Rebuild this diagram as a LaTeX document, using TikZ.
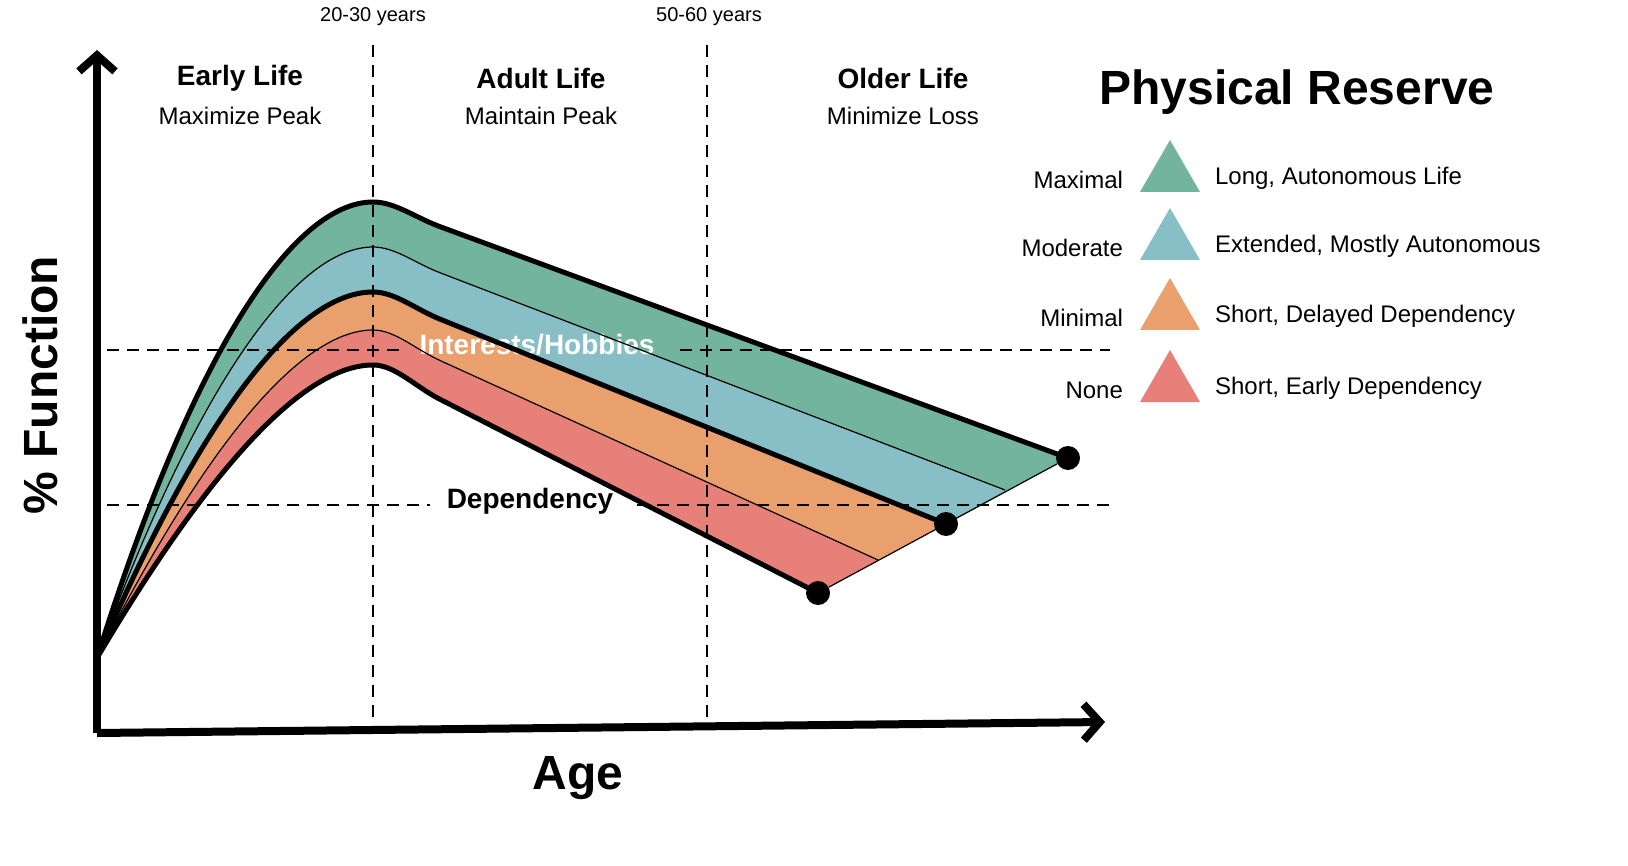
\documentclass[tikz,border=0pt]{standalone}
\usepackage{fontspec}
\setmainfont{Liberation Sans}
\usetikzlibrary{arrows.meta}
\definecolor{resgreen}{HTML}{72B49E}
\definecolor{resblue}{HTML}{88BEC5}
\definecolor{resorange}{HTML}{E9A06C}
\definecolor{resred}{HTML}{E8807A}
% one band curve: c1x, c1y, c2x, peak y, end x, end y, slope
\newcommand{\bandcurve}[7]{(97,658) .. controls (#1,#2) and (#3,#4) .. (373,#4) .. controls (395,#4) and (415,#4+42*#7) .. (440,#4+67*#7) -- (#5,#6)}
\newcommand{\bandback}{-- (818,593) -- (440,399.3) .. controls (415,386.5) and (395,365) .. (373,365) .. controls (310,365) and (220,450) .. (97,658)}
\tikzset{
  axis/.style={line width=4pt, -{Straight Barb[length=8pt,width=18pt,line width=4pt]}},
  guide/.style={line width=1.2pt, dash pattern=on 6pt off 4pt},
  thickc/.style={line width=2.5pt, line join=round},
  thinc/.style={line width=0.6pt},
  head/.style={font=\bfseries\fontsize{14}{16}\selectfont},
  sub/.style={font=\fontsize{12}{14}\selectfont},
  leg/.style={font=\fontsize{12}{14}\selectfont},
  tri/.style={fill=#1, draw=none}
}
\begin{document}
\begin{tikzpicture}[x=0.5pt,y=-0.5pt]
        \useasboundingbox (0,0) rectangle (1628,866);
        % bands
        \fill[resgreen] \bandcurve{200}{330}{300}{202}{1068}{458}{0.368} \bandback;
        \fill[resblue] \bandcurve{205}{363}{303}{247}{1005}{490}{0.384} \bandback;
        \fill[resorange] \bandcurve{211}{392}{305}{292}{946}{524}{0.405} \bandback;
        \fill[resred] \bandcurve{216}{424}{308}{330}{878}{560}{0.455} \bandback;
        % guides
        \coordinate (g1a) at (373,45); \coordinate (g1b) at (373,722);
        \coordinate (g2a) at (707,45); \coordinate (g2b) at (707,722);
        \draw[guide] (g1a) -- (g1b);
        \draw[guide] (g2a) -- (g2b);
        \draw[guide] (107,350) -- (402,350);
        \draw[guide] (680,350) -- (1110,350);
        \draw[guide] (107,505) -- (430,505);
        \draw[guide] (637,505) -- (1110,505);
        \node[font=\bfseries\fontsize{14}{16}\selectfont, text=white] (hobby) at (537,345) {Interests/Hobbies};
        \node[font=\bfseries\fontsize{14}{16}\selectfont] (dep) at (530,501) {Dependency};
        % curves
        \draw[thickc] \bandcurve{200}{330}{300}{202}{1068}{458}{0.368};
        \draw[thinc] \bandcurve{205}{363}{303}{247}{1005}{490}{0.384};
        \draw[thickc] \bandcurve{211}{392}{305}{292}{946}{524}{0.405};
        \draw[thinc] \bandcurve{216}{424}{308}{330}{878}{560}{0.455};
        \draw[thickc] \bandcurve{220}{450}{310}{365}{818}{593}{0.512};
        \node[circle, fill=black, inner sep=0pt, minimum size=12pt] (e1) at (818,593) {};
        \node[circle, fill=black, inner sep=0pt, minimum size=12pt] (e2) at (946,524) {};
        \node[circle, fill=black, inner sep=0pt, minimum size=12pt] (e3) at (1068,458) {};
        \draw[thinc] (e1) -- (e3);
        % axes
        \coordinate (origin) at (97,733);
        \coordinate (ytop) at (97,50);
        \coordinate (xend) at (1105,722);
        \draw[axis] (origin) -- (ytop);
        \draw[axis] (origin) -- (xend);
        \node[font=\bfseries\fontsize{24}{28}\selectfont, rotate=90] (ylab) at (40,385) {\% Function};
        \node[font=\bfseries\fontsize{24}{28}\selectfont] (xlab) at (578,778) {Age};
        % periods
        \node[font=\fontsize{10}{12}\selectfont] (y1) at (373,17) {20-30 years};
        \node[font=\fontsize{10}{12}\selectfont] (y2) at (709,17) {50-60 years};
        \node[head] (early) at (240,78) {Early Life};
        \node[sub] (earlys) at (240,116) {Maximize Peak};
        \node[head] (adult) at (541,78) {Adult Life};
        \node[sub] (adults) at (541,116) {Maintain Peak};
        \node[head] (older) at (903,78) {Older Life};
        \node[sub] (olders) at (903,116) {Minimize Loss};
        % legend
        \node[font=\bfseries\fontsize{24}{28}\selectfont] (title) at (1297,92) {Physical Reserve};
        \foreach \yy/\col/\lft/\rgt [count=\i] in {178/resgreen/Maximal/{Long, Autonomous Life},
            246/resblue/Moderate/{Extended, Mostly Autonomous},
            316/resorange/Minimal/{Short, Delayed Dependency},
            388/resred/None/{Short, Early Dependency}} {
          \fill[tri=\col] (1140,\yy+14) -- (1170,\yy-38) -- (1200,\yy+14) -- cycle;
          \node[leg, anchor=east] (legl\i) at (1130,\yy+2) {\lft};
          \node[leg, anchor=west] (legr\i) at (1208,\yy) {\rgt};
        }
\end{tikzpicture}
\end{document}
